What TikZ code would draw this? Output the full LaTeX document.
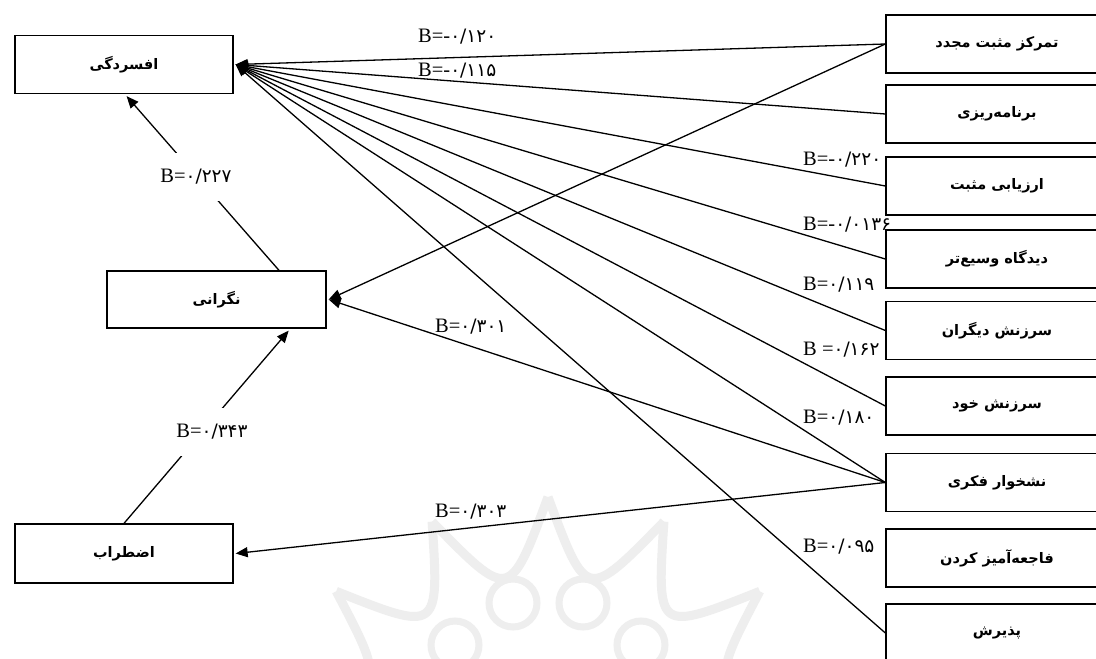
\documentclass[tikz,border=0pt]{standalone}
\usepackage{fontspec}
\setmainfont{Liberation Serif}
\newfontfamily\fa[Script=Arabic]{DejaVu Sans}
\TeXXeTstate=1
\usetikzlibrary{arrows.meta,calc}
\tikzset{
  box/.style={draw, line width=1.3pt, minimum width=218pt, minimum height=58pt, inner sep=0pt,
    font=\fa\bfseries\fontsize{14.5}{18}\selectfont},
  rbox/.style={box, minimum width=222pt},
  lab/.style={inner sep=0pt, anchor=west, font=\fontsize{20.5}{24}\selectfont},
  ln/.style={line width=1.3pt},
  arr/.style={ln, -{Triangle[length=12pt,width=10pt]}},
  wm/.style={line width=9pt, draw=gray!13}
}
\newcommand{\dg}[1]{{\fa\fontsize{18.5}{22}\selectfont #1}}
\begin{document}
\begin{tikzpicture}[x=1pt,y=-1pt]
\path[use as bounding box, clip] (0,0) rectangle (1096,659);
\fill[white] (0,0) rectangle (1096,659);
% watermark
\coordinate (wc) at (548,782);
\foreach \i in {-4,...,3}{
  \draw[wm] ($(wc)+(-90+24*\i:285)$) .. controls ($(wc)+(-78+24*\i:185)$) .. ($(wc)+(-90+24*\i+24:285)$);
}
\foreach \p in {(513,603),(583,603),(455,645),(641,645)}{
  \draw[wm, line width=7pt] \p circle (24);
}
% nodes
\node[box] (dep) at (124,64.5) {\beginR افسردگی\endR};
\node[box, minimum width=219pt, minimum height=57pt] (wor) at (216.5,299.5) {\beginR نگرانی\endR};
\node[box, minimum height=59pt] (anx) at (124,553.5) {\beginR اضطراب\endR};
\node[rbox] (r1) at (997,44) {\beginR تمرکز مثبت مجدد\endR};
\node[rbox] (r2) at (997,114) {\beginR برنامه‌ریزی\endR};
\node[rbox] (r3) at (997,186) {\beginR ارزیابی مثبت\endR};
\node[rbox] (r4) at (997,259) {\beginR دیدگاه وسیع‌تر\endR};
\node[rbox] (r5) at (997,330.5) {\beginR سرزنش دیگران\endR};
\node[rbox] (r6) at (997,406) {\beginR سرزنش خود\endR};
\node[rbox] (r7) at (997,482.5) {\beginR نشخوار فکری\endR};
\node[rbox] (r8) at (997,558) {\beginR فاجعه‌آمیز کردن\endR};
\node[rbox] (r9) at (997,633) {\beginR پذیرش\endR};
% connectors to depression
\foreach \r in {r1,r2,r3,r4,r5,r6,r7,r9}{
  \draw[arr] (\r.west) -- ([xshift=2pt]dep.east);
}
\draw[arr] (r1.west) -- ([xshift=2pt]wor.east);
\draw[arr] (r7.west) -- ([xshift=2pt]wor.east);
\draw[arr] (r7.west) -- ([xshift=2pt]anx.east);
\draw[arr] (wor.25) -- ([yshift=-2pt]dep.-85);
\draw[arr] (anx.north) -- ([yshift=-2pt]wor.-22);
% labels
\node[lab] (l1) at (418,37) {B=-\dg{۰/۱۲۰}};
\node[lab] (l2) at (418,71) {B=-\dg{۰/۱۱۵}};
\node[lab] (l3) at (803,160) {B=-\dg{۰/۲۲۰}};
\node[lab] (l4) at (803,225) {B=-\dg{۰/۰۱۳۶}};
\node[lab] (l5) at (803,285) {B=\dg{۰/۱۱۹}};
\node[lab] (l6) at (803,350) {B =\dg{۰/۱۶۲}};
\node[lab] (l7) at (803,418) {B=\dg{۰/۱۸۰}};
\node[lab] (l8) at (435,327) {B=\dg{۰/۳۰۱}};
\node[lab] (l9) at (435,512) {B=\dg{۰/۳۰۳}};
\node[lab] (l10) at (803,547) {B=\dg{۰/۰۹۵}};
\node[lab, anchor=center, fill=white, inner xsep=3pt, inner ysep=16pt] (l11) at (196,177) {B=\dg{۰/۲۲۷}};
\node[lab, anchor=center, fill=white, inner xsep=3pt, inner ysep=16pt] (l12) at (212,432) {B=\dg{۰/۳۴۳}};
\end{tikzpicture}
\end{document}
